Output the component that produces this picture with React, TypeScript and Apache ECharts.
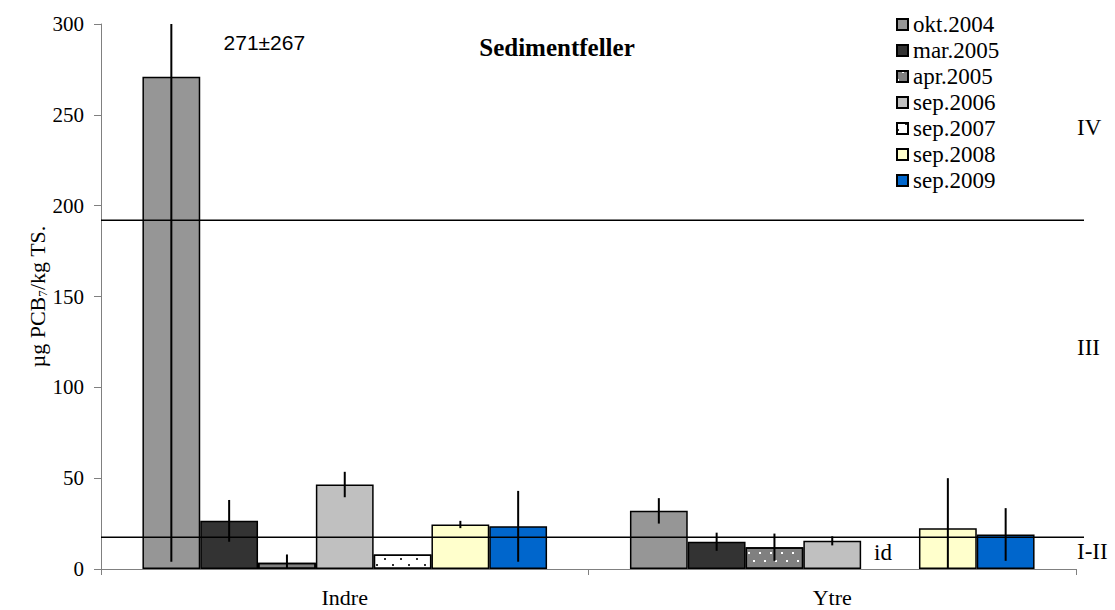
import React, { useEffect, useRef } from "react";
import * as echarts from "echarts";

// Sampling sites
const categories = ["Indre", "Ytre"];

// Sampling campaigns (legend order)
const campaigns = ["okt.2004", "mar.2005", "apr.2005", "sep.2006", "sep.2007", "sep.2008", "sep.2009"];

// Mean PCB7 concentration (µg/kg TS) per campaign, [Indre, Ytre]
const okt2004 = [271, 32];
const mar2005 = [26.5, 15];
const apr2005 = [3.5, 12];
const sep2006 = [46.5, 15.5];
const sep2007 = [8, null];
const sep2008 = [24.5, 22.5];
const sep2009 = [23.5, 19];

// Standard deviations, [Indre, Ytre]
const okt2004Sd = [267, 7];
const mar2005Sd = [11.5, 5];
const apr2005Sd = [4.5, 7.5];
const sep2006Sd = [7, 2.5];
const sep2007Sd = [null, null];
const sep2008Sd = [2, 27.5];
const sep2009Sd = [19.5, 14.5];

// Class limits (tilstandsklasser) drawn as horizontal lines
const classLimits = [192, 17.5];

// Y axis ticks
const yMin = 0;
const yMax = 300;
const yStep = 50;

const means = [okt2004, mar2005, apr2005, sep2006, sep2007, sep2008, sep2009];
const sds = [okt2004Sd, mar2005Sd, apr2005Sd, sep2006Sd, sep2007Sd, sep2008Sd, sep2009Sd];

const SERIF = "Liberation Serif";
const SANS = "Liberation Sans";
const BAR_GAP = 0.17;

const dots = (color: string, dx: number[][], dy: number[]) => ({
  symbol: "rect",
  symbolSize: 1,
  color,
  dashArrayX: dx,
  dashArrayY: dy,
});

const fills = [
  { color: "#969696" },
  { color: "#333333" },
  { color: "#808080", decal: dots("#ffffff", [[2, 9], [0, 5, 2, 4]], [2, 6]) },
  { color: "#c0c0c0" },
  { color: "#ffffff", decal: dots("#333333", [[2, 14], [0, 8, 2, 6]], [2, 4]) },
  { color: "#ffffcc" },
  { color: "#0066cc" },
];

export default function App() {
  const ref = useRef<HTMLDivElement>(null);

  useEffect(() => {
    if (!ref.current) return;
    const chart = echarts.init(ref.current, null, { renderer: "svg" });

    const barSeries = campaigns.map((name, s) => ({
      name,
      type: "bar",
      barGap: "0%",
      barCategoryGap: BAR_GAP * 100 + "%",
      itemStyle: { ...fills[s], borderColor: "#000", borderWidth: 1.5 },
      data: means[s].map((v, c) => {
        if (s === 0 && c === 0) {
          return {
            value: v,
            label: {
              show: true,
              position: "top",
              distance: 5,
              offset: [93, -19],
              formatter: () => `${v}±${sds[s][c]}`,
              fontFamily: SANS,
              fontSize: 21,
              color: "#000",
            },
          };
        }
        if (v === null) {
          return {
            value: 0,
            itemStyle: { color: "transparent", borderWidth: 0, decal: null },
            label: {
              show: true,
              position: "top",
              distance: 5,
              offset: [-7, 0],
              formatter: "id",
              fontFamily: SERIF,
              fontSize: 23,
              color: "#000",
            },
          };
        }
        return v;
      }),
    }));

    const errData: number[][] = [];
    means.forEach((arr, s) =>
      arr.forEach((v, c) => {
        const e = sds[s][c];
        if (v !== null && e !== null) errData.push([c, v, e, s]);
      })
    );

    const option = {
      animation: false,
      backgroundColor: "#fff",
      textStyle: { fontFamily: SERIF },
      grid: { left: 101, right: 39, top: 24, bottom: 41, outerBoundsMode: "none" },
      legend: {
        data: campaigns,
        orient: "vertical",
        left: 896,
        top: 13,
        padding: 0,
        itemWidth: 11,
        itemHeight: 11,
        itemGap: 3,
        icon: "rect",
        selectedMode: false,
        textStyle: { fontFamily: SERIF, fontSize: 23, color: "#000", lineHeight: 23 },
      },
      xAxis: {
        type: "category",
        data: categories,
        axisLine: { lineStyle: { color: "#808080", width: 1 } },
        axisTick: { show: true, length: 6, lineStyle: { color: "#808080" } },
        axisLabel: { fontFamily: SERIF, fontSize: 22, color: "#000", margin: 17 },
      },
      yAxis: {
        type: "value",
        min: yMin,
        max: yMax,
        interval: yStep,
        name: "{a|µg PCB}{s|7}{a|/kg TS.}",
        nameLocation: "middle",
        nameGap: 52,
        nameMoveOverlap: false,
        nameRotate: 90,
        nameTextStyle: {
          rich: {
            a: { fontFamily: SERIF, fontSize: 22, color: "#000", lineHeight: 24 },
            s: { fontFamily: SERIF, fontSize: 13, color: "#000", lineHeight: 24, verticalAlign: "bottom", padding: [10, 0, 0, 0] },
          },
        },
        axisLine: { show: true, lineStyle: { color: "#808080", width: 1 } },
        axisTick: { show: true, length: 7, lineStyle: { color: "#808080" } },
        splitLine: { show: false },
        axisLabel: { fontFamily: SERIF, fontSize: 21, color: "#000", margin: 17 },
      },
      series: [
        ...barSeries,
        {
          type: "custom",
          name: "sd",
          z: 4,
          clip: true,
          encode: { x: 0, y: 1 },
          data: errData,
          renderItem: (params: any, api: any) => {
            const c = api.value(0);
            const v = api.value(1);
            const e = api.value(2);
            const s = api.value(3);
            const band = api.size([1, 0])[0];
            const area = band * (1 - BAR_GAP);
            const bw = area / campaigns.length;
            const cx = api.coord([c, 0])[0] - area / 2 + bw * (s + 0.5);
            const yHi = api.coord([c, v + e])[1];
            const yLo = api.coord([c, Math.max(v - e, 0)])[1];
            return {
              type: "line",
              shape: { x1: cx, y1: yHi, x2: cx, y2: yLo },
              style: { stroke: "#000", lineWidth: 2 },
            };
          },
        },
        {
          type: "custom",
          name: "limits",
          z: 5,
          clip: false,
          encode: { x: 0, y: 1 },
          data: classLimits.map((v) => [0, v]),
          renderItem: (params: any, api: any) => {
            const y = api.coord([0, api.value(1)])[1];
            const cs = params.coordSys;
            return {
              type: "line",
              shape: { x1: cs.x, y1: y, x2: cs.x + cs.width + 8, y2: y },
              style: { stroke: "#000", lineWidth: 1.5 },
            };
          },
        },
      ],
      graphic: [
        {
          type: "text",
          x: 557,
          y: 47,
          style: {
            text: "Sedimentfeller",
            fontFamily: SERIF,
            fontWeight: "bold",
            fontSize: 25,
            fill: "#000",
            textAlign: "center",
            textVerticalAlign: "middle",
          },
        },
        {
          type: "text",
          x: 1077,
          y: 127,
          style: { text: "IV", fontFamily: SERIF, fontSize: 23, fill: "#000", textVerticalAlign: "middle" },
        },
        {
          type: "text",
          x: 1077,
          y: 347,
          style: { text: "III", fontFamily: SERIF, fontSize: 23, fill: "#000", textVerticalAlign: "middle" },
        },
        {
          type: "text",
          x: 1077,
          y: 551,
          style: { text: "I-II", fontFamily: SERIF, fontSize: 23, fill: "#000", textVerticalAlign: "middle" },
        },
      ],
    };

    chart.setOption(option as any);
    return () => chart.dispose();
  }, []);

  return <div ref={ref} style={{ position: "fixed", left: 0, top: 0, width: 1115, height: 610 }} />;
}
